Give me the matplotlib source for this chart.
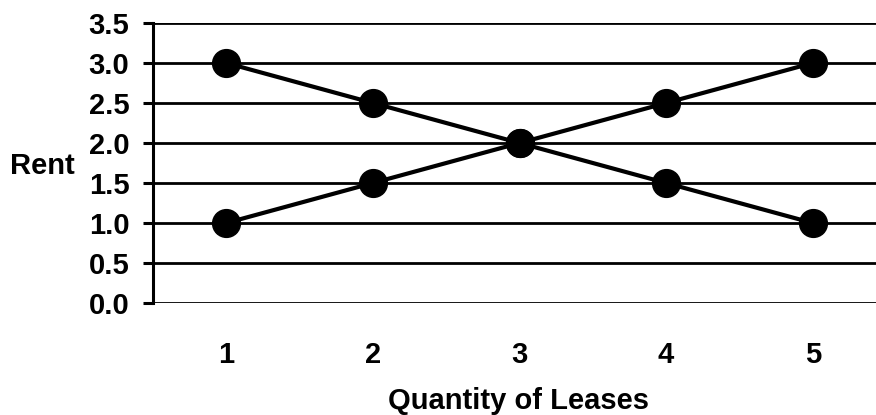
import matplotlib
matplotlib.use("Agg")
import matplotlib.pyplot as plt

quantity = [1, 2, 3, 4, 5]
demand_rent = [3.0, 2.5, 2.0, 1.5, 1.0]
supply_rent = [1.0, 1.5, 2.0, 2.5, 3.0]
y_ticks = [0.0, 0.5, 1.0, 1.5, 2.0, 2.5, 3.0, 3.5]
y_tick_labels = ["0.0", "0.5", "1.0", "1.5", "2.0", "2.5", "3.0", "3.5"]
x_tick_labels = ["1", "2", "3", "4", "5"]

plt.rcParams['font.family'] = ['Liberation Sans', 'DejaVu Sans']
plt.rcParams['font.weight'] = 'bold'

fig = plt.figure(figsize=(8.76, 4.15), dpi=100)
ax = fig.add_axes([153/876, 112/415, 733/876, 280/415])

for s in ['top', 'right', 'bottom']:
    ax.spines[s].set_visible(False)
ax.spines['left'].set_linewidth(2.2)
ax.spines['left'].set_color('black')

ax.set_ylim(0, 3.5)
ax.set_xlim(0.5, 5.5)
ax.set_yticks(y_ticks)
ax.set_yticklabels(y_tick_labels, fontsize=21, fontweight='bold')
ax.set_xticks(quantity)
ax.set_xticklabels(x_tick_labels, fontsize=21, fontweight='bold')
ax.tick_params(axis='y', length=7, width=2.2, pad=10)
ax.tick_params(axis='x', length=0, pad=27)

ax.grid(axis='y', color='black', linewidth=2.0)
ax.set_axisbelow(True)

ax.plot(quantity, demand_rent, color='black', linewidth=3, marker='o',
        markersize=20, zorder=3, clip_on=False)
ax.plot(quantity, supply_rent, color='black', linewidth=3, marker='o',
        markersize=20, zorder=3, clip_on=False)

ax.set_ylabel("Rent", fontsize=21, fontweight='bold', rotation=0,
              va='center', ha='right')
ax.yaxis.set_label_coords(-78/733, 0.49)
ax.set_xlabel("Quantity of Leases", fontsize=21, fontweight='bold')
ax.xaxis.set_label_coords((518-153)/733, -(401-303)/280, transform=ax.transAxes)
ax.xaxis.label.set_va('center')

fig.savefig("out.png", dpi=100)
